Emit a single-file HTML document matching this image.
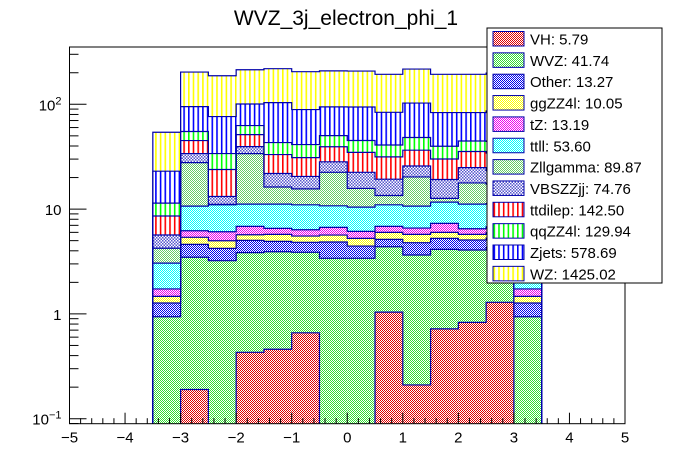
<!DOCTYPE html>
<html><head><meta charset="utf-8">
<style>
html,body{margin:0;padding:0;background:#fff;}
svg{display:block;font-family:"Liberation Sans",Arial,sans-serif;}
</style></head>
<body>
<svg id="c" width="696" height="472" viewBox="0 0 696 472" xmlns="http://www.w3.org/2000/svg">
<defs>
<clipPath id="plotclip"><rect x="69.5" y="47" width="555.5" height="376.7"/></clipPath>
</defs>
<rect x="0" y="0" width="696" height="472" fill="#fff"/>
<text x="346" y="25" text-anchor="middle" font-size="21" fill="#000">WVZ_3j_electron_phi_1</text>
<g id="plot" clip-path="url(#plotclip)"></g>
<g id="axes"></g>
<g id="legend"></g>
</svg>
<script>
// ---- data ----
const binEdgesLow = [-3.5,-3,-2.5,-2,-1.5,-1,-0.5,0,0.5,1,1.5,2,2.5,3];
const binWidth = 0.5;
const names = ["VH","WVZ","Other","ggZZ4l","tZ","ttll","Zllgamma","VBSZZjj","ttdilep","qqZZ4l","Zjets","WZ"];
const legendTotals = ["5.79","41.74","13.27","10.05","13.19","53.60","89.87","74.76","142.50","129.94","578.69","1425.02"];
const VH       = [0,0.19,0,0.43,0.46,0.66,0,0,1.04,0.21,0.72,0.83,1.29,0];
const WVZ      = [0.94,3.28,3.22,3.41,3.46,3.21,3.39,3.39,3.33,3.44,3.41,3.24,3.0,0.94];
const Other    = [0.33,1.14,1.0,1.19,1.0,0.95,1.46,1.05,0.77,1.13,1.13,1.0,1.0,0.33];
const ggZZ4l   = [0.20,0.77,0.77,0.66,0.82,0.71,0.80,0.82,0.86,0.96,0.74,0.67,0.7,0.2];
const tZ       = [0.26,0.83,1.09,1.15,0.81,0.82,1.04,0.87,0.84,0.85,1.31,0.75,0.8,0.26];
const ttll     = [1.32,4.47,4.91,4.32,4.61,4.64,4.06,4.32,4.15,4.09,4.35,4.67,4.5,1.3];
const Zllgamma = [1.18,17.1,0.1,22.7,5.1,4.6,11.7,5.3,2.5,9.6,1.0,6.6,6.0,1.2];
const VBSZZjj  = [1.43,6.1,2.1,5.6,5.6,4.9,5.8,6.7,5.8,5.5,6.5,7.1,6.0,1.4];
const ttdilep  = [2.93,11.2,10.7,11.9,11.3,10.5,11.1,12.3,12.2,10.7,10.9,10.6,11.0,2.9];
const qqZZ4l   = [2.82,9.9,10.0,11.3,10.0,10.3,10.9,10.4,9.4,11.7,9.7,9.2,10.0,2.8];
const Zjets    = [11.6,40.1,42.5,38.0,60.6,47.8,44.3,49.1,43.0,54.6,43.6,38.7,42.0,11.0];
const WZ       = [31.1,108,111,113,115,115.7,113.8,113.3,109.3,114,109.8,109.8,112,30.0];
const xTicks = [-5,-4,-3,-2,-1,0,1,2,3,4,5];
const yDecades = [-1,0,1,2];
const yDecadeLabels = ["10","1","10","10"];
const yDecadeSup = ["\u22121","","","2"];

const layers = [VH,WVZ,Other,ggZZ4l,tZ,ttll,Zllgamma,VBSZZjj,ttdilep,qqZZ4l,Zjets,WZ];
const colors = ["#e00000","#33dd33","#0000ee","#ffff00","#ee00ee","#00ffff","#66cc66","#5555cc","#ff0000","#00ff00","#0000ff","#ffff00"];
const kinds  = ["chk","chk","chk","chk","chk","chk","chk","chk2","vl","vl","vl","vl"];

// ---- axes functions ----
const X0=69.5, X1=625, Y0=47, Y1=423.7;
const xs = v => X0 + (v+5)*(X1-X0)/10;
const YDEC = 104.8, Y_ONE = 313.9;
const ys = v => v<=0 ? Y1+5 : Y_ONE - Math.log10(v)*YDEC;

const NS="http://www.w3.org/2000/svg";
const svg=document.getElementById('c');
const defs=svg.querySelector('defs');
function mk(tag,attrs,parent){const e=document.createElementNS(NS,tag);for(const k in attrs)e.setAttribute(k,attrs[k]);if(parent)parent.appendChild(e);return e;}

// patterns
names.forEach((n,i)=>{
  let p;
  if(kinds[i]==="chk"){
    p=mk('pattern',{id:'pat'+i,width:2,height:2,patternUnits:'userSpaceOnUse'},defs);
    mk('rect',{x:0,y:0,width:2,height:2,fill:'#fff'},p);
    mk('rect',{x:0,y:0,width:1,height:1,fill:colors[i]},p);
    mk('rect',{x:1,y:1,width:1,height:1,fill:colors[i]},p);
  } else if(kinds[i]==="chk2"){
    p=mk('pattern',{id:'pat'+i,width:3,height:3,patternUnits:'userSpaceOnUse'},defs);
    mk('rect',{x:0,y:0,width:3,height:3,fill:'#fff'},p);
    mk('rect',{x:0,y:0,width:1.5,height:1.5,fill:colors[i]},p);
    mk('rect',{x:1.5,y:1.5,width:1.5,height:1.5,fill:colors[i]},p);
  } else {
    p=mk('pattern',{id:'pat'+i,width:4.7,height:4,patternUnits:'userSpaceOnUse'},defs);
    mk('rect',{x:0,y:0,width:4.7,height:4,fill:'#fff'},p);
    mk('rect',{x:0,y:0,width:1.6,height:4,fill:colors[i]},p);
  }
});

// ---- stack ----
const plot=document.getElementById('plot');
const nb=binEdgesLow.length;
const cum=[]; let prev=new Array(nb).fill(0);
layers.forEach((arr,li)=>{
  const cur=prev.map((p,b)=>p+arr[b]);
  cum.push({lo:prev.slice(),hi:cur});
  prev=cur;
});
cum.forEach((c,li)=>{
  const g=mk('g',{},plot);
  
  
  for(let b=0;b<nb;b++){
    if(layers[li][b]<=0) continue;
    const xa=xs(binEdgesLow[b]), xb=xs(binEdgesLow[b]+binWidth);
    const yt=ys(c.hi[b]), yb=ys(c.lo[b]);
    const r=mk('rect',{x:xa,y:yt,width:xb-xa,height:Math.max(0,yb-yt),fill:'url(#pat'+li+')'},g);
    
    
  }
});
cum.forEach((c,li)=>{
  let d='M'+xs(binEdgesLow[0])+','+(Y1+5);
  for(let b=0;b<nb;b++){
    const y=ys(c.hi[b]);
    d+=' V'+y+' H'+xs(binEdgesLow[b]+binWidth);
  }
  d+=' V'+(Y1+5);
  const p=mk('path',{d:d,fill:'none',stroke:'#0000aa','stroke-width':1.2},plot);
  
  
});

// ---- axes ----
const ax=document.getElementById('axes');
const frame=mk('rect',{x:X0,y:Y0,width:X1-X0,height:Y1-Y0,fill:'none',stroke:'#000','stroke-width':1},ax);


// x ticks
for(let k=0;k<=50;k++){
  const v=-5+k*0.2, x=xs(v);
  const major=(k%5===0);
  mk('line',{x1:x,y1:Y1,x2:x,y2:Y1-(major?11:5.5),stroke:'#000','stroke-width':1},ax);
}
xTicks.forEach(v=>{
  const t=mk('text',{x:xs(v),y:Y1+19,'text-anchor':'middle','font-size':15,fill:'#000'},ax);
  t.textContent=(v<0?'\u2212':'')+Math.abs(v);
  
  
});
// y ticks
for(let dcd=-2;dcd<=2;dcd++){
  for(let m=1;m<=9;m++){
    const v=m*Math.pow(10,dcd), y=ys(v);
    if(y<Y0||y>Y1) continue;
    mk('line',{x1:X0,y1:y,x2:X0+(m===1?17:9),y2:y,stroke:'#000','stroke-width':1},ax);
  }
}
yDecades.forEach((d,i)=>{
  const y=ys(Math.pow(10,d));
  const t=mk('text',{x:X0-8,y:y+6,'text-anchor':'end','font-size':15,fill:'#000'},ax);
  
  
  if(yDecadeSup[i]){
    const a=mk('tspan',{},t); a.textContent=yDecadeLabels[i];
    const s=mk('tspan',{dy:-6,'font-size':11},t); s.textContent=yDecadeSup[i];
  } else t.textContent=yDecadeLabels[i];
});

// ---- legend ----
const lg=document.getElementById('legend');
const lb=mk('rect',{x:487,y:28,width:175,height:255,fill:'#fff',stroke:'#000','stroke-width':1},lg);


names.forEach((n,i)=>{
  const y=31.5+i*21.35;
  const g=mk('g',{},lg);
  
  
  mk('rect',{x:493,y:y,width:31,height:14.5,fill:'url(#pat'+i+')',stroke:'#0000aa','stroke-width':1},g);
  const t=mk('text',{x:530,y:y+13,'font-size':15,fill:'#000'},g);
  t.textContent=n+': '+legendTotals[i];
});
</script>
</body></html>
